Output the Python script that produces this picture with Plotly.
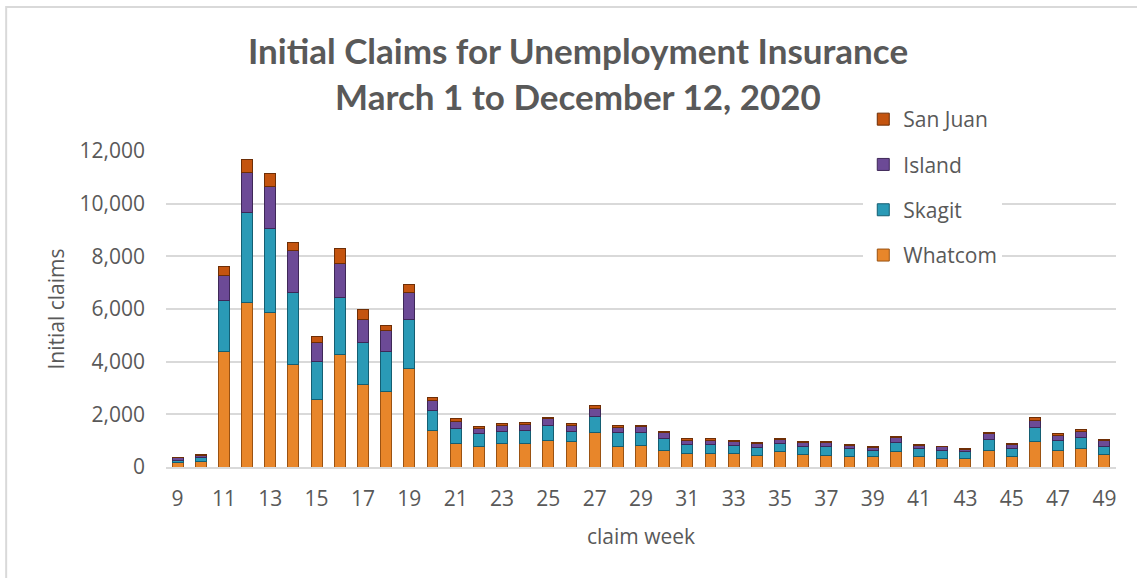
import plotly.graph_objects as go

weeks = list(range(9, 50))
whatcom = [165, 215, 4370, 6230, 5860, 3900, 2545, 4280, 3115, 2850, 3740, 1370, 910, 760, 910, 910,
           1015, 950, 1305, 785, 835, 645, 495, 530, 495, 450, 570, 480, 445, 405, 380, 570, 405,
           330, 330, 635, 405, 950, 620, 685, 480]
skagit = [100, 140, 1950, 3420, 3210, 2735, 1470, 2175, 1595, 1545, 1870, 760, 570, 510, 455, 480,
          580, 405, 630, 520, 470, 420, 355, 320, 305, 300, 340, 315, 315, 290, 240, 355, 305,
          280, 240, 420, 280, 560, 390, 420, 315]
island = [90, 75, 970, 1520, 1580, 1595, 695, 1290, 900, 770, 1025, 390, 265, 190, 230, 240,
          245, 240, 305, 190, 215, 255, 165, 165, 150, 130, 130, 130, 165, 125, 115, 190, 100,
          175, 90, 200, 165, 275, 190, 240, 205]
san_juan = [20, 50, 330, 520, 490, 305, 255, 560, 380, 215, 290, 130, 100, 75, 65, 65,
            50, 65, 100, 90, 65, 40, 75, 75, 65, 60, 50, 50, 50, 30, 50, 50, 50,
            10, 50, 65, 50, 100, 75, 90, 50]

series = [
    ("Whatcom", whatcom, "#E8862A", "#9A5212", 4),
    ("Skagit", skagit, "#2A9AB6", "#145E72", 3),
    ("Island", island, "#6C4A96", "#3E2858", 2),
    ("San Juan", san_juan, "#C4540F", "#6E2E06", 1),
]

fig = go.Figure()
for name, vals, col, edge, rank in series:
    fig.add_trace(go.Bar(
        x=weeks, y=vals, name=name, legendgroup=name, legendrank=rank,
        marker=dict(color=col, line=dict(color=edge, width=1)),
    ))

grey = "#595959"
fig.update_layout(
    width=1137, height=578,
    barmode="stack", bargap=0.53,
    paper_bgcolor="white", plot_bgcolor="white",
    margin=dict(l=166, r=21, t=151, b=111),
    font=dict(family="Open Sans", color=grey, size=21),
    title=dict(
        text="<b>Initial Claims for Unemployment Insurance<br>March 1 to December 12, 2020</b>",
        x=578 / 1137, xanchor="center", y=1 - 64 / 578, yanchor="middle",
        font=dict(family="Lato", size=35, color=grey),
    ),
    legend=dict(
        x=(864 - 166) / 951, xanchor="left", y=(467 - 99) / 316, yanchor="top",
        bgcolor="white", traceorder="grouped", tracegroupgap=15,
        font=dict(size=21, color=grey), itemwidth=30,
    ),
    showlegend=True,
)
fig.update_xaxes(
    range=[8.5, 49.5], tickmode="array", tickvals=list(range(9, 50, 2)),
    showgrid=False, showline=True, linecolor="#D9D9D9", linewidth=2,
    ticks="", ticklabelstandoff=12, tickfont=dict(size=21),
    title=dict(text="claim week", standoff=18, font=dict(size=21)),
)
fig.update_yaxes(
    range=[0, 12000], tickvals=[0, 2000, 4000, 6000, 8000, 10000, 12000],
    tickformat=",", showgrid=True, gridcolor="#D9D9D9", gridwidth=1.5,
    zeroline=False, showline=False, ticks="", ticklabelstandoff=20,
    tickfont=dict(size=21),
    title=dict(text="Initial claims", standoff=9, font=dict(size=21)),
)
# outer chart border
fig.add_shape(type="rect", xref="paper", yref="paper",
              x0=(6 - 166) / 951, x1=(1160 - 166) / 951,
              y0=(467 - 600) / 316, y1=(467 - 7) / 316,
              line=dict(color="#D9D9D9", width=2), fillcolor="rgba(0,0,0,0)", layer="below")

fig.write_html("out.html", config={"displayModeBar": False},
               post_script="document.body.style.margin='0';")
